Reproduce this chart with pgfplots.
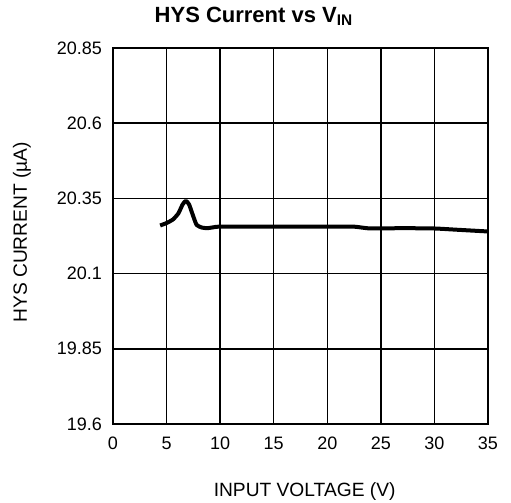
\documentclass[border=0pt]{standalone}
\usepackage{pgfplots}
\pgfplotsset{compat=1.18}
\usepackage{fontspec}
\setmainfont{Liberation Sans}
\begin{document}
\begin{tikzpicture}
\begin{axis}[
  scale only axis,
  width=187.5pt, height=188pt,
  xmin=0, xmax=35, ymin=19.6, ymax=20.85,
  xtick={0,5,...,35},
  ytick={19.6,19.85,20.1,20.35,20.6,20.85},
  yticklabels={19.6,19.85,20.1,20.35,20.6,20.85},
  /pgf/number format/assume math mode=true,
  tick label style={font=\fontsize{9}{10}\selectfont},
  major tick length=0pt,
  grid=major,
  major grid style={black, line width=0.75pt},
  axis line style={black, line width=1pt},
  yticklabel style={xshift=-2pt},
  xticklabel style={yshift=-3pt},
  xlabel={INPUT VOLTAGE (V)},
  ylabel={HYS CURRENT (µA)},
  label style={font=\fontsize{9.6}{11}\selectfont, inner sep=0pt},
  xlabel style={at={(axis description cs:0.511,-0.194)}, anchor=base},
  ylabel style={at={(axis description cs:-0.2427,0.51)}, anchor=center},
  every axis title shift=0pt,
  title={HYS Current vs V\textsubscript{IN}},
  title style={font=\bfseries\fontsize{11}{13}\selectfont, inner sep=0pt, at={(axis description cs:0.376,1.069)}, anchor=base, yshift=0pt},
]
\addplot[black, line width=2pt, line join=round, smooth, tension=0.3] coordinates {
(4.4,20.26) (5.0,20.268) (5.6,20.28) (6.1,20.30) (6.5,20.33) (6.8,20.342) (7.1,20.33) (7.4,20.30) (7.8,20.262) (8.3,20.253) (8.8,20.251) (9.4,20.254) (10,20.256) (15,20.256) (20,20.256) (22.5,20.256) (24,20.25) (27,20.251) (30,20.25) (32,20.246) (35,20.24)
};
\end{axis}
\path (-56.5pt,-39.5pt) rectangle (199pt,212pt);
\end{tikzpicture}
\end{document}
